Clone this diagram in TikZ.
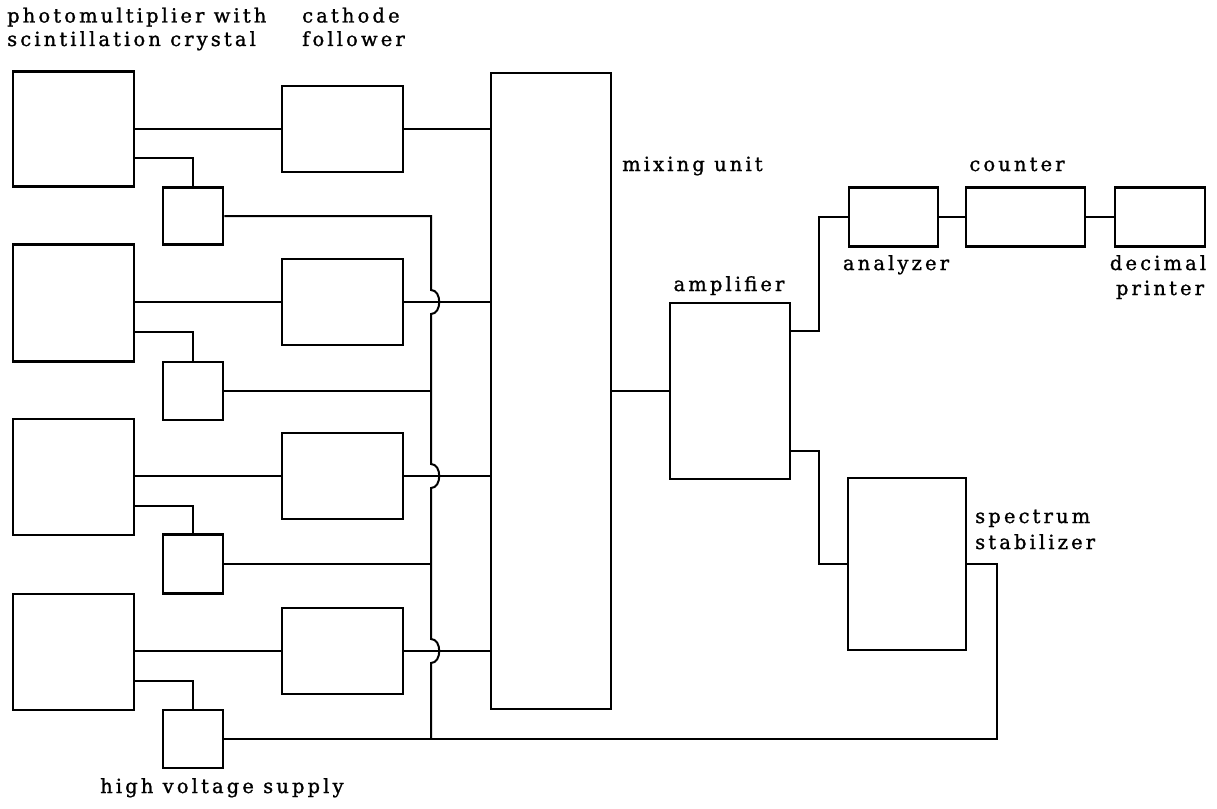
\documentclass[tikz,border=0pt]{standalone}
\usepackage{fontspec}
\setmainfont{DejaVu Serif}[LetterSpace=16,FakeBold=1.2]
\begin{document}
\begin{tikzpicture}[x=1pt,y=-1pt,
  box/.style={draw, line width=2.6pt, inner sep=0pt, minimum width=#1},
  wire/.style={line width=2pt, line join=miter},
  lab/.style={inner sep=0pt, anchor=base west, font=\fontsize{19.5}{23}\selectfont},
  labc/.style={inner sep=0pt, anchor=base, font=\fontsize{19.5}{23}\selectfont}]
\useasboundingbox (0,0) rectangle (1217,808);
% photomultipliers
\node[box=121pt, minimum height=115pt] (pm1) at (73.5,129) {};
\node[box=121pt, minimum height=117pt] (pm2) at (73.5,303) {};
\node[box=121pt, minimum height=116pt] (pm3) at (73.5,477) {};
\node[box=121pt, minimum height=116pt] (pm4) at (73.5,652) {};
% high voltage supplies
\node[box=60pt, minimum height=57pt] (hv1) at (193,216) {};
\node[box=60pt, minimum height=58pt] (hv2) at (193,391) {};
\node[box=60pt, minimum height=59pt] (hv3) at (193,564) {};
\node[box=60pt, minimum height=58pt] (hv4) at (193,739) {};
% cathode followers
\node[box=121pt, minimum height=86pt] (cf1) at (342.5,129) {};
\node[box=121pt, minimum height=86pt] (cf2) at (342.5,302) {};
\node[box=121pt, minimum height=86pt] (cf3) at (342.5,476) {};
\node[box=121pt, minimum height=86pt] (cf4) at (342.5,651) {};
% mixing unit, amplifier
\node[box=120pt, minimum height=636pt] (mix) at (551,391) {};
\node[box=120pt, minimum height=176pt] (amp) at (730,391) {};
% right side
\node[box=89pt, minimum height=59pt] (ana) at (893.5,217) {};
\node[box=119pt, minimum height=59pt] (cnt) at (1025.5,217) {};
\node[box=90pt, minimum height=59pt] (prn) at (1160,217) {};
\node[box=118pt, minimum height=172pt] (stab) at (907,564) {};
% bus coordinates
\coordinate (bustop) at (431,216);
\coordinate (busbot) at (431,739);
\coordinate (ret) at (997,739);
% PM -> CF -> mixing
\foreach \i in {1,2,3,4}{
  \draw[wire] (pm\i.east |- cf\i.west) -- (cf\i.west);
  \draw[wire] (cf\i.east) -- (cf\i.east -| mix.west);
  \draw[wire] ([yshift=-29pt]pm\i.east) -| (hv\i.north);
}
% HV bus with jumps
\draw[wire] (hv1.east) -- (bustop)
  -- (431,290) .. controls (442,290) and (442,314) .. (431,314)
  -- (431,464) .. controls (442,464) and (442,488) .. (431,488)
  -- (431,639) .. controls (442,639) and (442,663) .. (431,663)
  -- (busbot);
\draw[wire] (hv2.east) -- (hv2.east -| bustop);
\draw[wire] (hv3.east) -- (hv3.east -| bustop);
\draw[wire] (hv4.east) -- (ret) |- (stab.east);
% mixing -> amplifier -> rest
\draw[wire] (mix.east |- amp.west) -- (amp.west);
\draw[wire] ([yshift=-29pt]amp.north east) -- ++(28,0) |- (ana.west);
\draw[wire] ([yshift=29pt]amp.south east) -- ++(28,0) |- (stab.west);
\draw[wire] (ana.east) -- (cnt.west);
\draw[wire] (cnt.east) -- (prn.west);
% labels
\node[lab] (t1) at (7,22.5) {photomultiplier with};
\node[lab] (t2) at (7,46) {scintillation crystal};
\node[lab] (t3) at (302,22.5) {cathode};
\node[lab] (t4) at (302,46) {follower};
\node[lab] (t5) at (622,171) {mixing unit};
\node[labc] (t6) at (729,291) {amplifier};
\node[labc] (t7) at (896,270) {analyzer};
\node[labc] (t8) at (1017,171) {counter};
\node[labc] (t9) at (1158,270) {decimal};
\node[labc] (t10) at (1160,295) {printer};
\node[lab] (t11) at (975,523) {spectrum};
\node[lab] (t12) at (975,549) {stabilizer};
\node[lab] (t13) at (100,793) {high voltage supply};
\end{tikzpicture}
\end{document}
